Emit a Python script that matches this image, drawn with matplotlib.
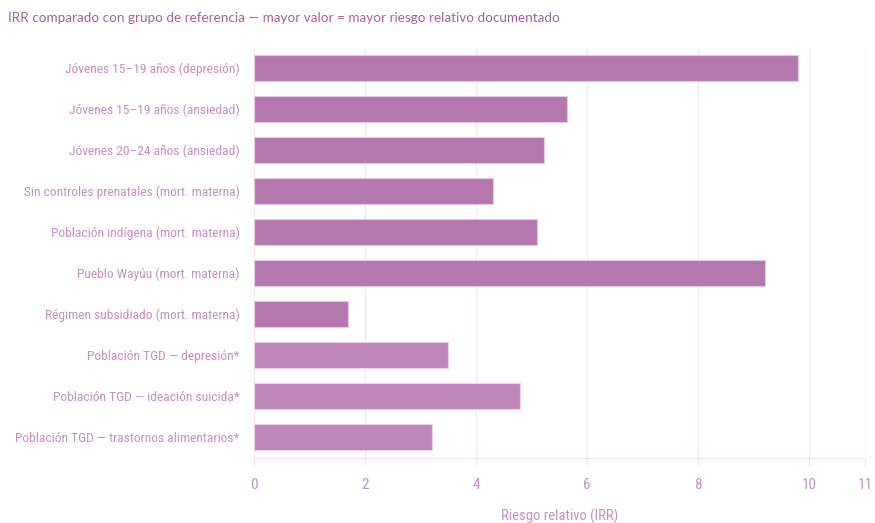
import matplotlib
matplotlib.use("Agg")
import matplotlib.pyplot as plt
from matplotlib import font_manager

categories = [
    "Jóvenes 15–19 años (depresión)",
    "Jóvenes 15–19 años (ansiedad)",
    "Jóvenes 20–24 años (ansiedad)",
    "Sin controles prenatales (mort. materna)",
    "Población indígena (mort. materna)",
    "Pueblo Wayúu (mort. materna)",
    "Régimen subsidiado (mort. materna)",
    "Población TGD — depresión*",
    "Población TGD — ideación suicida*",
    "Población TGD — trastornos alimentarios*",
]
values = [9.8, 5.63, 5.23, 4.3, 5.1, 9.2, 1.7, 3.5, 4.8, 3.2]
groups = ["a"] * 7 + ["b"] * 3
xticks = [0, 2, 4, 6, 8, 10, 11]

names = {f.name for f in font_manager.fontManager.ttflist}
if "Roboto Condensed" in names:
    narrow, lab_fs, tick_fs = "Roboto Condensed", 9.7, 11
elif "Liberation Sans Narrow" in names:
    narrow, lab_fs, tick_fs = "Liberation Sans Narrow", 10.0, 11
else:
    narrow, lab_fs, tick_fs = "Liberation Sans", 8.8, 10.5

colors = {"a": "#b578ae", "b": "#bf86b9"}
edges = {"a": "#e8c9e4", "b": "#ecd2e8"}
text_c = "#c88fc3"

fig = plt.figure(figsize=(8.75, 5.23), dpi=100)
ax = fig.add_axes([0.290, 0.125, 0.6986, 0.784])

ypos = list(range(len(categories)))
ax.barh(ypos, values, height=0.64,
        color=[colors[g] for g in groups],
        edgecolor=[edges[g] for g in groups], linewidth=0.8, zorder=3)
ax.set_ylim(len(categories) - 0.5, -0.5)
ax.set_xlim(0, 11)
ax.set_xticks(xticks)
ax.set_xticklabels([str(t) for t in xticks], fontfamily=narrow, fontsize=tick_fs, color=text_c)
ax.set_yticks(ypos)
ax.set_yticklabels(categories, fontfamily=narrow, fontsize=lab_fs, color=text_c)
ax.tick_params(axis="y", length=0, pad=10)
ax.tick_params(axis="x", length=6, color="#f3e3f1", pad=9)
ax.grid(axis="x", color="#f5e8f3", linewidth=1, zorder=0)
for s in ["top", "right", "left"]:
    ax.spines[s].set_visible(False)
ax.spines["bottom"].set_color("#f3e3f1")
ax.set_xlabel("Riesgo relativo (IRR)", fontfamily=narrow, fontsize=10.5, color=text_c, labelpad=12)

fig.text(0.009, 0.965, "IRR comparado con grupo de referencia — mayor valor = mayor riesgo relativo documentado",
         fontfamily="Lato", fontsize=9.7, color="#a8609f", va="center", ha="left")

fig.savefig("out.png", dpi=100)
